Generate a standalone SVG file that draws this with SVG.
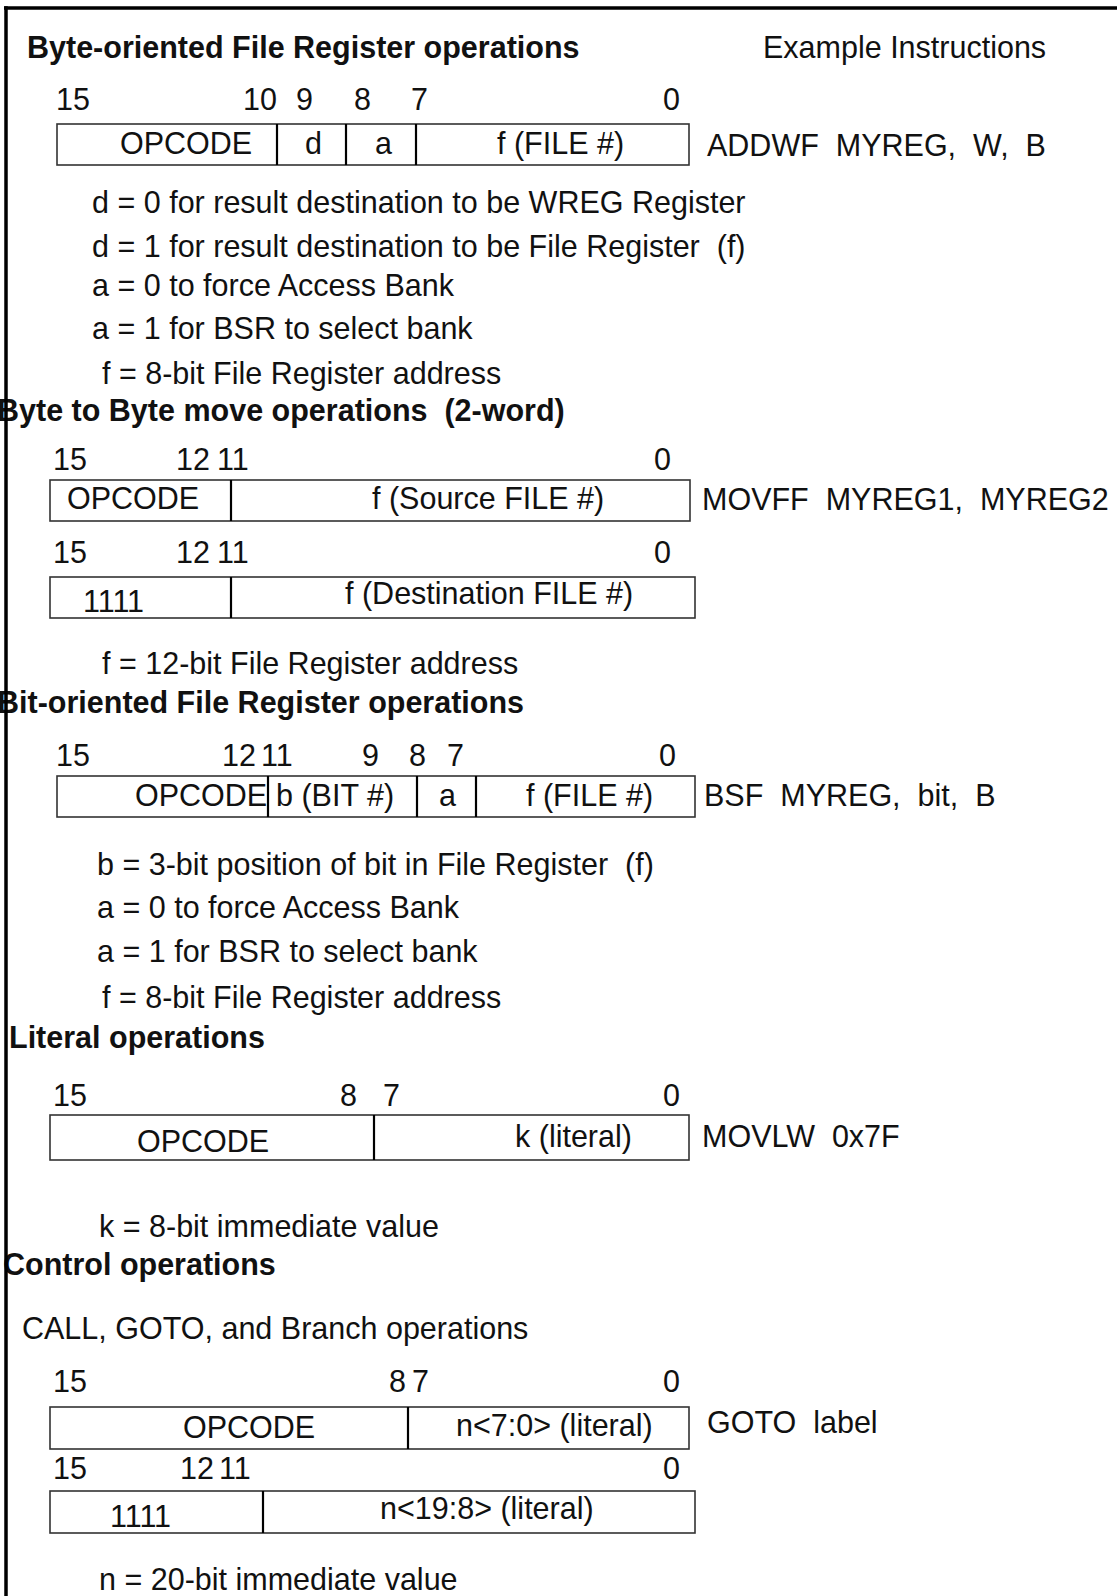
<svg xmlns="http://www.w3.org/2000/svg" width="1117" height="1596" viewBox="0 0 1117 1596">
<style>
text{font-family:"Liberation Sans",Arial,sans-serif;font-size:30.5px;fill:#111;white-space:pre}
.t{font-weight:bold}
.box{fill:#fff;stroke:#333;stroke-width:1.6}
.div{stroke:#000;stroke-width:2.2}
.frame{stroke:#000;stroke-width:3.5;fill:none}
</style>
<rect width="1117" height="1596" fill="#fff"/>

<g id="sec1">
<text class="t" x="27" y="58">Byte-oriented File Register operations</text>
<text x="763" y="58">Example Instructions</text>
<g id="sec1-bits"><text x="56" y="110">15</text><text x="243" y="110">10</text><text x="296" y="110">9</text><text x="354" y="110">8</text><text x="411" y="110">7</text><text x="663" y="110">0</text></g>
<g id="sec1-box">
<rect class="box" x="57" y="124" width="632" height="41"/>
<line class="div" x1="277" y1="124" x2="277" y2="165"/><line class="div" x1="346" y1="124" x2="346" y2="165"/><line class="div" x1="416" y1="124" x2="416" y2="165"/>
<text x="120" y="154">OPCODE</text><text x="305" y="154">d</text><text x="375" y="154">a</text><text x="497" y="154">f (FILE #)</text>
</g>
<text x="707" y="156">ADDWF  MYREG,  W,  B</text>
<text x="92" y="213">d = 0 for result destination to be WREG Register</text>
<text x="92" y="257">d = 1 for result destination to be File Register  (f)</text>
<text x="92" y="296">a = 0 to force Access Bank</text>
<text x="92" y="339">a = 1 for BSR to select bank</text>
<text x="102" y="384">f = 8-bit File Register address</text>
</g>

<g id="sec2">
<text class="t" x="-3" y="421">Byte to Byte move operations  (2-word)</text>
<g id="sec2-bits1"><text x="53" y="470">15</text><text x="176" y="470">12</text><text x="217" y="470">11</text><text x="654" y="470">0</text></g>
<g id="sec2-box1">
<rect class="box" x="50" y="480" width="640" height="41"/>
<line class="div" x1="231" y1="480" x2="231" y2="521"/>
<text x="67" y="509">OPCODE</text><text x="372" y="509">f (Source FILE #)</text>
</g>
<text x="702" y="510">MOVFF  MYREG1,  MYREG2</text>
<g id="sec2-bits2"><text x="53" y="563">15</text><text x="176" y="563">12</text><text x="217" y="563">11</text><text x="654" y="563">0</text></g>
<g id="sec2-box2">
<rect class="box" x="50" y="577" width="645" height="41"/>
<line class="div" x1="231" y1="577" x2="231" y2="618"/>
<text x="83" y="612">1111</text><text x="345" y="604">f (Destination FILE #)</text>
</g>
<text x="102" y="674">f = 12-bit File Register address</text>
</g>

<g id="sec3">
<text class="t" x="-3" y="713">Bit-oriented File Register operations</text>
<g id="sec3-bits"><text x="56" y="766">15</text><text x="222" y="766">12</text><text x="261" y="766">11</text><text x="362" y="766">9</text><text x="409" y="766">8</text><text x="447" y="766">7</text><text x="659" y="766">0</text></g>
<g id="sec3-box">
<rect class="box" x="57" y="776" width="638" height="41"/>
<line class="div" x1="268" y1="776" x2="268" y2="817"/><line class="div" x1="417" y1="776" x2="417" y2="817"/><line class="div" x1="476" y1="776" x2="476" y2="817"/>
<text x="135" y="806">OPCODE</text><text x="276" y="806">b (BIT #)</text><text x="439" y="806">a</text><text x="526" y="806">f (FILE #)</text>
</g>
<text x="704" y="806">BSF  MYREG,  bit,  B</text>
<text x="97" y="875">b = 3-bit position of bit in File Register  (f)</text>
<text x="97" y="918">a = 0 to force Access Bank</text>
<text x="97" y="962">a = 1 for BSR to select bank</text>
<text x="102" y="1008">f = 8-bit File Register address</text>
</g>

<g id="sec4">
<text class="t" x="9" y="1048">Literal operations</text>
<g id="sec4-bits"><text x="53" y="1106">15</text><text x="340" y="1106">8</text><text x="383" y="1106">7</text><text x="663" y="1106">0</text></g>
<g id="sec4-box">
<rect class="box" x="50" y="1115" width="639" height="45"/>
<line class="div" x1="374" y1="1115" x2="374" y2="1160"/>
<text x="137" y="1152">OPCODE</text><text x="515" y="1147">k (literal)</text>
</g>
<text x="702" y="1147">MOVLW  0x7F</text>
<text x="99" y="1237">k = 8-bit immediate value</text>
</g>

<g id="sec5">
<text class="t" x="3" y="1275">Control operations</text>
<text x="22" y="1339">CALL, GOTO, and Branch operations</text>
<g id="sec5-bits1"><text x="53" y="1392">15</text><text x="389" y="1392">8</text><text x="412" y="1392">7</text><text x="663" y="1392">0</text></g>
<g id="sec5-box1">
<rect class="box" x="50" y="1407" width="639" height="42"/>
<line class="div" x1="408" y1="1407" x2="408" y2="1449"/>
<text x="183" y="1438">OPCODE</text><text x="456" y="1436">n&lt;7:0&gt; (literal)</text>
</g>
<text x="707" y="1433">GOTO  label</text>
<g id="sec5-bits2"><text x="53" y="1479">15</text><text x="180" y="1479">12</text><text x="219" y="1479">11</text><text x="663" y="1479">0</text></g>
<g id="sec5-box2">
<rect class="box" x="50" y="1491" width="645" height="42"/>
<line class="div" x1="263" y1="1491" x2="263" y2="1533"/>
<text x="110" y="1527">1111</text><text x="380" y="1519">n&lt;19:8&gt; (literal)</text>
</g>
<text x="99" y="1590">n = 20-bit immediate value</text>
</g>

<g id="connectors"/>
<g id="frame">
<line class="frame" x1="4" y1="8" x2="1117" y2="8"/>
<line class="frame" x1="6" y1="6.25" x2="6" y2="1596"/>
</g>
</svg>
